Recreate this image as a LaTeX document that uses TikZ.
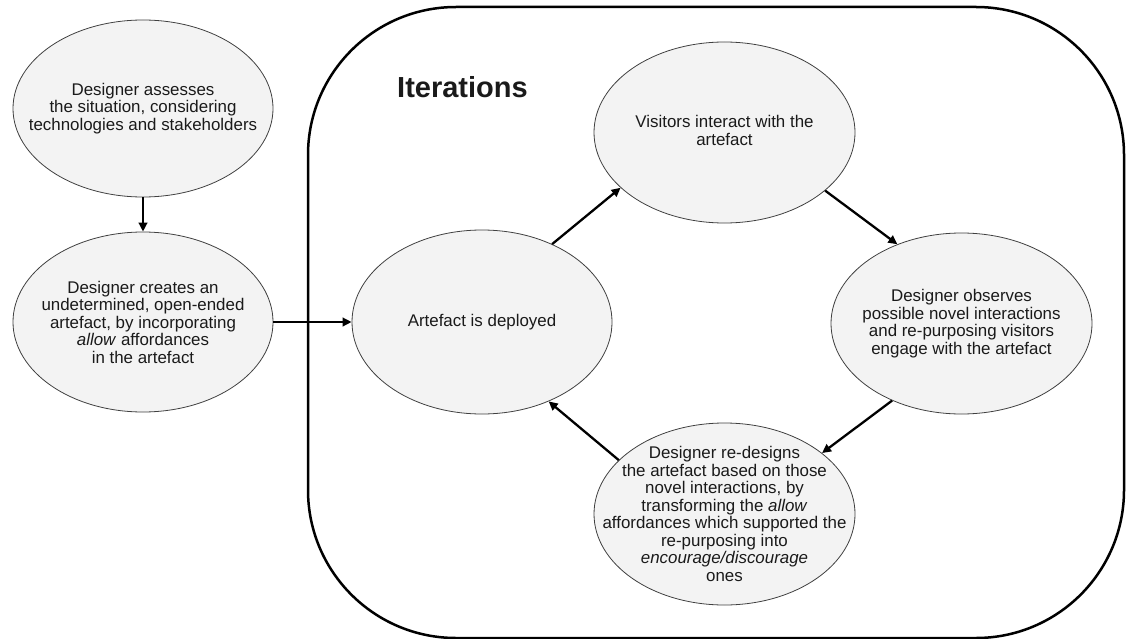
\documentclass[tikz,border=0pt]{standalone}
\usepackage{fontspec}
\setmainfont{Liberation Sans}
\usetikzlibrary{shapes.geometric,arrows.meta}
\definecolor{bubfill}{HTML}{F3F3F3}
\definecolor{bubline}{HTML}{404040}
\definecolor{txt}{HTML}{1A1A1A}
\begin{document}
\begin{tikzpicture}[x=1pt,y=-1pt,
  bub/.style={ellipse,draw=bubline,line width=0.8pt,fill=bubfill,inner sep=0pt},
  btxt/.style={align=center,inner sep=0pt,text=txt,font=\fontsize{16.9}{17.5}\selectfont},
  flow/.style={line width=2.3pt,draw=black,-{Triangle[length=9pt,width=8.5pt]}}]
\useasboundingbox (0,0) rectangle (1126,639);
% container
\node[draw=black,line width=2.5pt,rounded corners=148pt,minimum width=816pt,minimum height=631pt,inner sep=0pt] (iter) at (716,322.5) {};
\node[anchor=base west,inner sep=0pt,text=txt,font=\fontsize{29}{30}\selectfont\bfseries] (title) at (397,98) {Iterations};
% ellipses
\node[bub,minimum width=260pt,minimum height=177pt] (a) at (143,108.5) {};
\node[bub,minimum width=260pt,minimum height=180pt] (b) at (143,322) {};
\node[bub,minimum width=260pt,minimum height=184pt] (dep) at (482,322) {};
\node[bub,minimum width=261pt,minimum height=181pt] (vis) at (724.5,132.5) {};
\node[bub,minimum width=261pt,minimum height=181pt] (obs) at (961.5,323.5) {};
\node[bub,minimum width=261pt,minimum height=182pt] (red) at (724.5,514) {};
% texts
\node[btxt] (at) at (a) {Designer assesses\\the situation, considering\\technologies and stakeholders};
\node[btxt] (bt) at (b) {Designer creates an\\undetermined, open-ended\\artefact, by incorporating\\\textit{allow} affordances\\in the artefact};
\node[btxt] (dept) at (dep) {Artefact is deployed};
\node[btxt] (vist) at ([yshift=2pt]vis.center) {Visitors interact with the\\artefact};
\node[btxt] (obst) at (obs) {Designer observes\\possible novel interactions\\and re-purposing visitors\\engage with the artefact};
\node[btxt] (redt) at (red) {Designer re-designs\\the artefact based on those\\novel interactions, by\\transforming the \textit{allow}\\affordances which supported the\\re-purposing into\\\textit{encourage/discourage}\\ones};
% connectors
\draw[flow] (a.south) -- (b.north);
\draw[flow] (b.east) -- (dep.west);
\draw[flow] (dep.48.5) -- (vis.208.2);
\draw[flow] (vis.-30) -- (obs.129.9);
\draw[flow] (obs.228.9) -- (red.32);
\draw[flow] (red.153) -- (dep.-50);
\end{tikzpicture}
\end{document}
